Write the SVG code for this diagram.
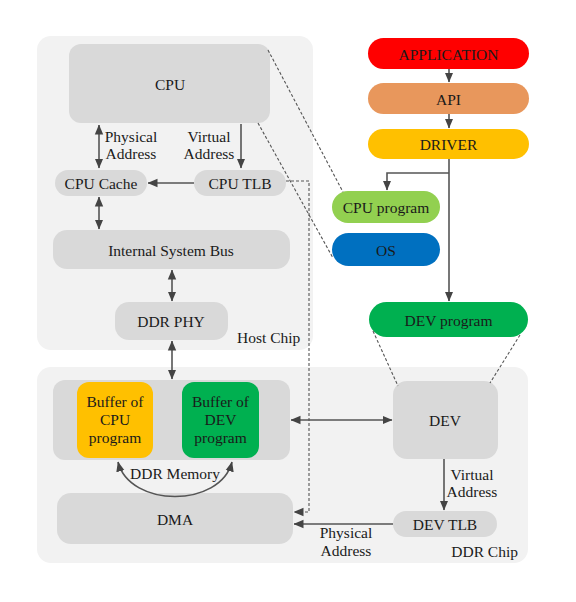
<svg xmlns="http://www.w3.org/2000/svg" width="576" height="602" viewBox="0 0 576 602">
<defs>
<style>
text{font-family:"Liberation Serif","Times New Roman",serif;font-size:15.5px;fill:#1a1a1a;}
.c{text-anchor:middle;dominant-baseline:central;}
.m{text-anchor:middle;}
.panel{fill:#F2F2F2;}
.box{fill:#D9D9D9;}
.ln{stroke:#555;stroke-width:1.6;fill:none;}
.dl{stroke:#555;stroke-width:1.1;fill:none;stroke-dasharray:3,2;}
</style>
<marker id="ah" markerUnits="userSpaceOnUse" markerWidth="10" markerHeight="10" viewBox="0 0 10 10" refX="9.5" refY="5" orient="auto-start-reverse">
<path d="M0,0.8 L10,5 L0,9.2 z" fill="#444"/>
</marker>
</defs>
<rect width="576" height="602" fill="#fff"/>
<g id="host-chip">
<rect class="panel" x="37" y="36" width="276" height="314" rx="14"/>
<text x="237" y="343">Host Chip</text>
</g>
<g id="ddr-chip">
<rect class="panel" x="37" y="367" width="491" height="196" rx="14"/>
<text x="518" y="557" text-anchor="end">DDR Chip</text>
</g>
<g id="cpu"><rect class="box" x="69" y="44" width="201" height="79" rx="12"/><text class="c" x="170" y="84">CPU</text></g>
<g id="cpu-cache"><rect class="box" x="55" y="170" width="92" height="26" rx="13"/><text class="c" x="101" y="183">CPU Cache</text></g>
<g id="cpu-tlb"><rect class="box" x="194" y="170" width="92" height="26" rx="13"/><text class="c" x="240" y="183">CPU TLB</text></g>
<g id="bus"><rect class="box" x="53" y="230" width="237" height="39" rx="14"/><text class="c" x="171" y="250">Internal System Bus</text></g>
<g id="ddr-phy"><rect class="box" x="115" y="302" width="113" height="38" rx="14"/><text class="c" x="171" y="321">DDR PHY</text></g>
<g id="ddr-memory">
<rect class="box" x="53" y="380" width="237" height="80" rx="12"/>
<text class="m" x="175" y="479">DDR Memory</text>
</g>
<g id="buffer-cpu"><rect x="77" y="382" width="76" height="76" rx="12" fill="#FFC000"/>
<text class="m" x="115" y="407">Buffer of</text><text class="m" x="115" y="425">CPU</text><text class="m" x="115" y="443">program</text></g>
<g id="buffer-dev"><rect x="182" y="382" width="77" height="76" rx="12" fill="#00B050"/>
<text class="m" x="220.5" y="407">Buffer of</text><text class="m" x="220.5" y="425">DEV</text><text class="m" x="220.5" y="443">program</text></g>
<g id="dma"><rect class="box" x="57" y="493" width="236" height="51" rx="14"/><text class="c" x="175" y="519">DMA</text></g>
<g id="dev"><rect class="box" x="393" y="381" width="105" height="78" rx="14"/><text class="c" x="445" y="420">DEV</text></g>
<g id="dev-tlb"><rect class="box" x="393" y="511" width="104" height="26" rx="13"/><text class="c" x="445" y="524">DEV TLB</text></g>
<g id="application"><rect x="368" y="38" width="161" height="31" rx="15.5" fill="#FF0000"/><text class="c" x="448.5" y="54">APPLICATION</text></g>
<g id="api"><rect x="368" y="83" width="161" height="31" rx="15.5" fill="#E8975C"/><text class="c" x="448.5" y="99">API</text></g>
<g id="driver"><rect x="368" y="129" width="161" height="30" rx="15" fill="#FFC000"/><text class="c" x="448.5" y="144">DRIVER</text></g>
<g id="cpu-program"><rect x="332" y="191" width="108" height="32" rx="16" fill="#92D050"/><text class="c" x="386" y="207">CPU program</text></g>
<g id="os"><rect x="332" y="233" width="108" height="33" rx="16.5" fill="#0070C0"/><text class="c" x="386" y="250">OS</text></g>
<g id="dev-program"><rect x="369" y="302" width="159" height="35" rx="17.5" fill="#00B050"/><text class="c" x="448.5" y="320">DEV program</text></g>
<g id="connectors">
<path class="ln" d="M99,125 V168" marker-start="url(#ah)" marker-end="url(#ah)"/>
<text class="m" x="131" y="142">Physical</text><text class="m" x="131" y="159">Address</text>
<path class="ln" d="M241,124 V168" marker-end="url(#ah)"/>
<text class="m" x="209" y="142">Virtual</text><text class="m" x="209" y="159">Address</text>
<path class="ln" d="M194,183 H148" marker-end="url(#ah)"/>
<path class="ln" d="M99,197 V229" marker-start="url(#ah)" marker-end="url(#ah)"/>
<path class="ln" d="M172,270 V301" marker-start="url(#ah)" marker-end="url(#ah)"/>
<path class="ln" d="M172,341 V379" marker-start="url(#ah)" marker-end="url(#ah)"/>
<path class="ln" d="M118,462 C130,508 220,508 232,462" marker-start="url(#ah)" marker-end="url(#ah)"/>
<path class="ln" d="M449,69 V82" marker-end="url(#ah)"/>
<path class="ln" d="M449,114 V128" marker-end="url(#ah)"/>
<path class="ln" d="M449,159 V301" marker-end="url(#ah)"/>
<path class="ln" d="M449,173 H387 V190" marker-end="url(#ah)"/>
<path class="ln" d="M291,420 H392" marker-start="url(#ah)" marker-end="url(#ah)"/>
<path class="ln" d="M444,459 V510" marker-end="url(#ah)"/>
<text class="m" x="472" y="480">Virtual</text><text class="m" x="472" y="497">Address</text>
<path class="ln" d="M393,524 H294" marker-end="url(#ah)"/>
<text class="m" x="346" y="538">Physical</text><text class="m" x="346" y="556">Address</text>
<path class="dl" d="M286,181 H309 V512 H294" marker-end="url(#ah)"/>
<path class="dl" d="M268,50 L343,192"/>
<path class="dl" d="M258,123 L333,258"/>
<path class="dl" d="M373,331 L398,386"/>
<path class="dl" d="M520,335 L490,383"/>
</g>
</svg>
